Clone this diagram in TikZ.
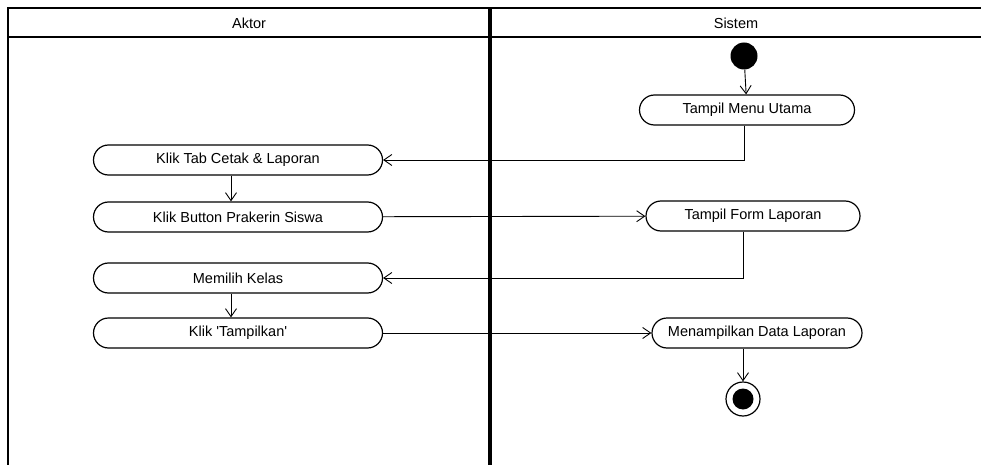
\documentclass[tikz,border=0pt]{standalone}
\usepackage{fontspec}
\setmainfont{Liberation Sans}
\usetikzlibrary{arrows.meta}
\begin{document}
\begin{tikzpicture}[x=1pt,y=-1pt,
    aksi/.style={draw,line width=1.2pt,rectangle,rounded corners=15pt,minimum height=30pt,inner sep=0pt,font=\fontsize{14.5}{16}\selectfont},
    panah/.style={-{Straight Barb[length=8pt,width=11pt]},line width=0.9pt}]
      \useasboundingbox (0,0) rectangle (981,465);
      % swimlane
      \draw[line width=2pt] (981,8) -- (8,8) -- (8,465);
      \draw[line width=2pt] (8,37) -- (981,37);
      \draw[line width=4pt] (490,8) -- (490,465);
      \node[font=\fontsize{14.5}{16}\selectfont] (aktor) at (249,23) {Aktor};
      \node[font=\fontsize{14.5}{16}\selectfont] (sistem) at (736,23) {Sistem};
      % aktivitas
      \draw
        (744,56) node[circle,fill,inner sep=0pt,minimum size=27pt] (mulai){}
        (747,110) node[aksi,minimum width=215pt] (menu){Tampil Menu Utama}
        (238,160) node[aksi,minimum width=289pt] (tab){Klik Tab Cetak \& Laporan}
        (238,217) node[aksi,minimum width=289pt] (button){Klik Button Prakerin Siswa}
        (753,216) node[aksi,minimum width=214pt] (form){Tampil Form Laporan}
        (238,278) node[aksi,minimum width=289pt] (kelas){Memilih Kelas}
        (238,333) node[aksi,minimum width=289pt] (tampilkan){Klik \textquotesingle Tampilkan\textquotesingle}
        (757,333) node[aksi,minimum width=210pt] (data){Menampilkan Data Laporan}
        (743,399) node[circle,draw,line width=1.2pt,inner sep=0pt,minimum size=34pt] (selesai){};
      \fill (selesai) circle (10.5pt);
      \begin{scope}[panah]
        \draw (mulai) -- (menu);
        \draw (menu.south -| mulai) |- (tab.east);
        \draw (tab.south -| 231,0) -- (button.north -| 231,0);
        \draw (button) -- (form);
        \draw ([xshift=-10pt]form.south) |- (kelas.east);
        \draw (kelas.south -| 231,0) -- (tampilkan.north -| 231,0);
        \draw (tampilkan) -- (data);
        \draw (data.south -| selesai) -- (selesai);
      \end{scope}
    \end{tikzpicture}
\end{document}
